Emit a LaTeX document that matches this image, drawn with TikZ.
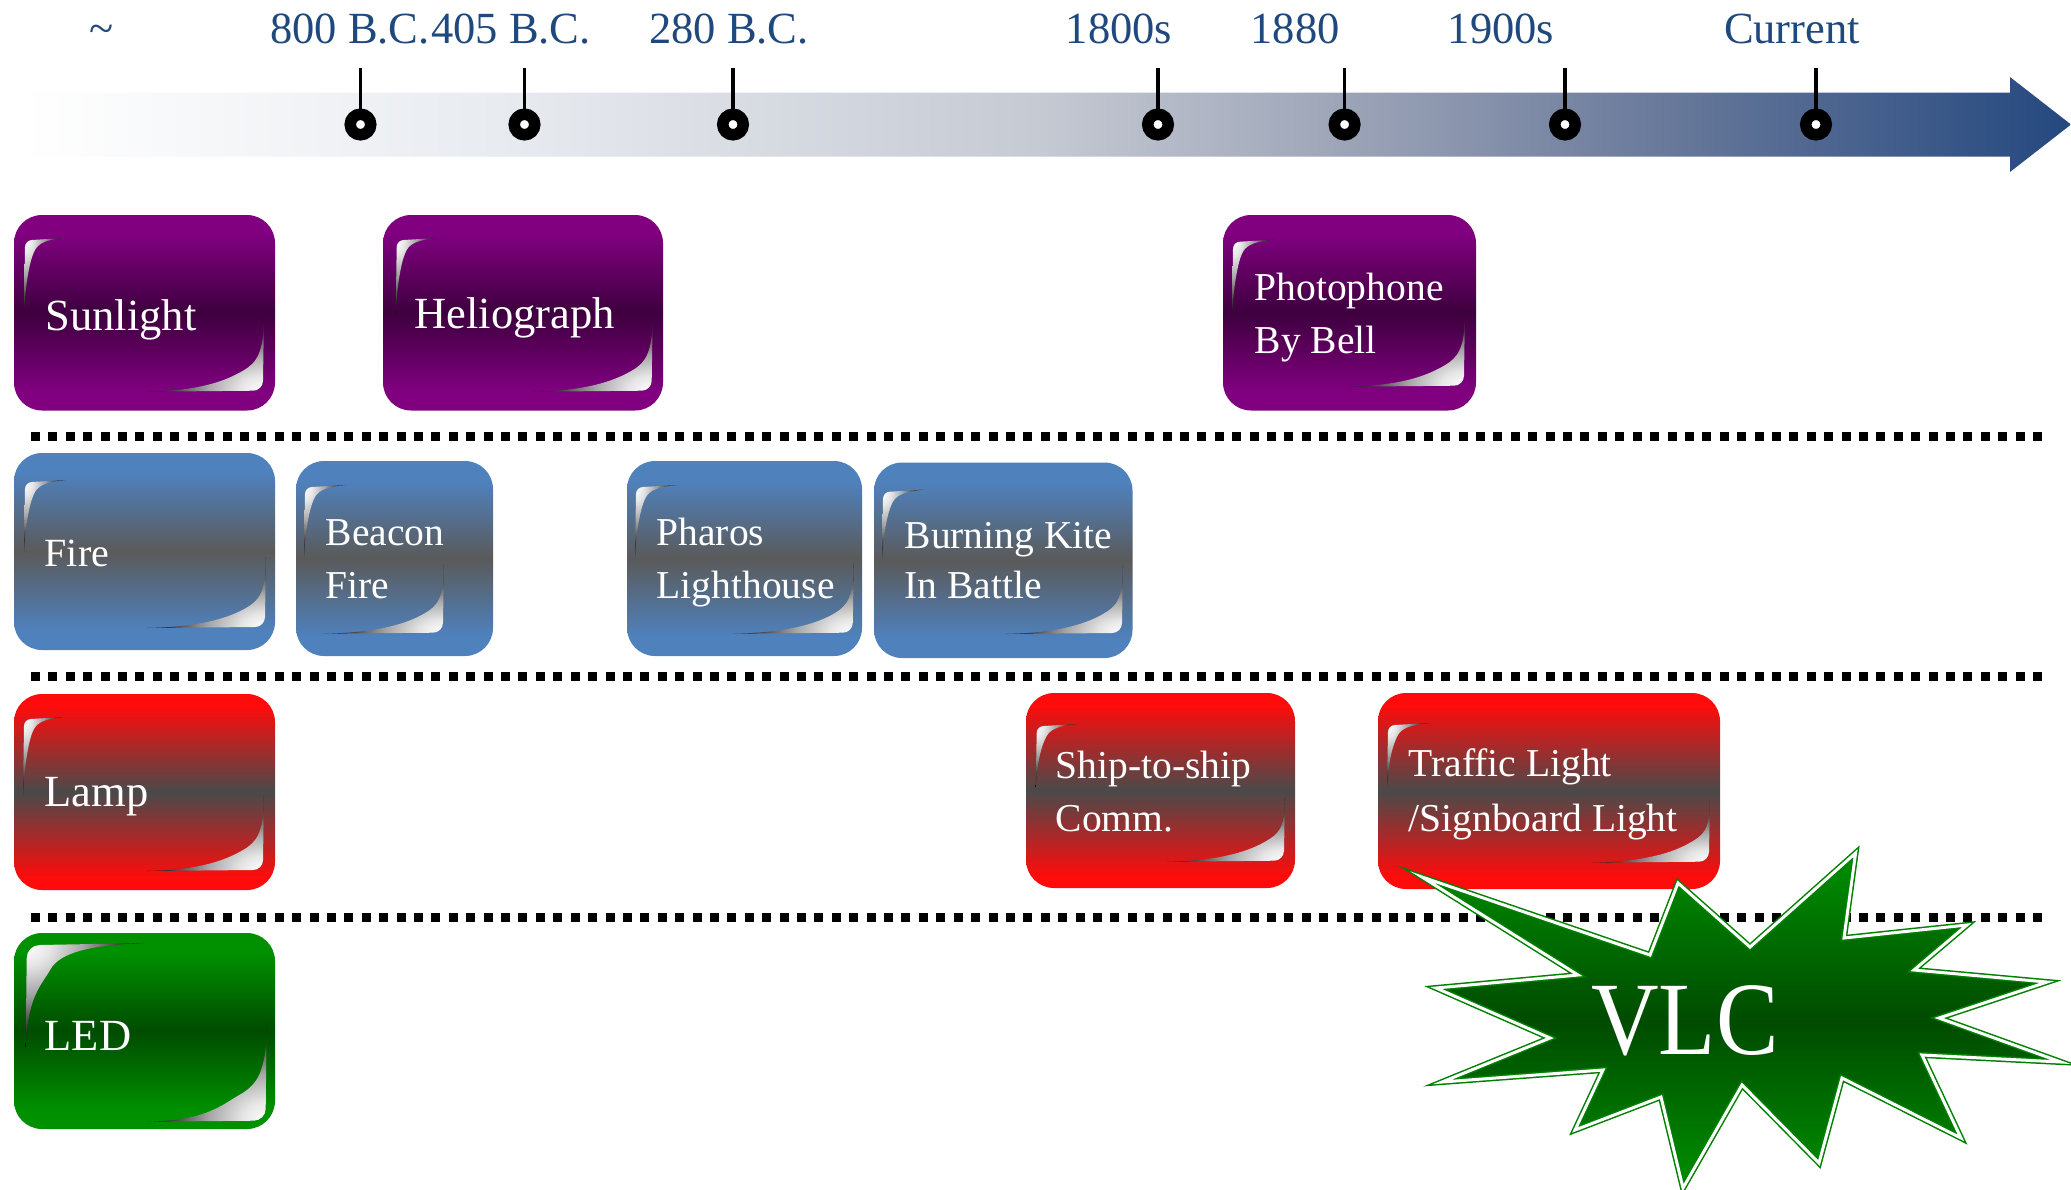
\documentclass[tikz,border=0pt]{standalone}
\usepackage{fontspec}
\setmainfont{Liberation Serif}

% timeline colours
\definecolor{tlblue}{HTML}{24487F}
\definecolor{lblblue}{HTML}{1F497D}
\definecolor{tlA}{HTML}{E8EBF0}
\definecolor{tlB}{HTML}{C6CAD3}
\definecolor{tlC}{HTML}{9CA4B7}
\definecolor{tlD}{HTML}{6A7A9B}
% box colours (edge / middle)
\definecolor{boxP1}{HTML}{800080}
\definecolor{boxP2}{HTML}{3E003E}
\definecolor{boxB1}{HTML}{4F81BD}
\definecolor{boxB2}{HTML}{5A5A5A}
\definecolor{boxR1}{HTML}{FF0B0B}
\definecolor{boxR2}{HTML}{4A4A4A}
\definecolor{boxG1}{HTML}{009000}
\definecolor{boxG2}{HTML}{004C00}
% burst colours
\definecolor{starG}{HTML}{009000}
\definecolor{starD}{HTML}{004B00}
\definecolor{starL}{HTML}{008000}

\pgfdeclarehorizontalshading{timeline}{100bp}{color(0bp)=(white); color(25.5bp)=(white); color(37bp)=(tlA); color(50bp)=(tlB); color(57.5bp)=(tlC); color(65bp)=(tlD); color(75bp)=(tlblue); color(100bp)=(tlblue)}
\pgfdeclareverticalshading{shpurple}{100bp}{color(0bp)=(boxP1); color(30bp)=(boxP1); color(50bp)=(boxP2); color(70bp)=(boxP1); color(100bp)=(boxP1)}
\pgfdeclareverticalshading{shblue}{100bp}{color(0bp)=(boxB1); color(30bp)=(boxB1); color(50bp)=(boxB2); color(70bp)=(boxB1); color(100bp)=(boxB1)}
\pgfdeclareverticalshading{shred}{100bp}{color(0bp)=(boxR1); color(28bp)=(boxR1); color(50bp)=(boxR2); color(72bp)=(boxR1); color(100bp)=(boxR1)}
\pgfdeclareverticalshading{shgreen}{100bp}{color(0bp)=(boxG1); color(30bp)=(boxG1); color(50bp)=(boxG2); color(70bp)=(boxG1); color(100bp)=(boxG1)}
\pgfdeclareradialshading{curlshade}{\pgfpoint{0bp}{0bp}}{color(0bp)=(white); color(5bp)=(white!90!black); color(12bp)=(black!35); color(19bp)=(black!72); color(25bp)=(black!95); color(50bp)=(black!95)}

\tikzset{
  tlbl/.style={font=\fontsize{12.66pt}{15pt}\selectfont, text=lblblue, inner sep=0pt, anchor=base},
  tick/.style={circle, fill=white, draw=black, line width=0.115cm, minimum size=0.205cm, inner sep=0pt},
  stem/.style={line width=0.035cm, black},
  sepline/.style={line width=0.09cm, dash pattern=on 0.09cm off 0.084cm},
  tbox/.style={rectangle, rounded corners=0.28cm, inner sep=0pt, outer sep=0pt, shade},
  btext/.style={text=white, inner sep=0pt, anchor=base west},
  big/.style={font=\fontsize{12.66pt}{15pt}\selectfont},
}

% rounded box: name, x1, y1, x2, y2, shading
\newcommand{\tbx}[6]{%
  \node[tbox, shading=#6, minimum width={(#4-#2)*0.01cm}, minimum height={(#5-#3)*0.01cm}]
    (#1) at ({(#2+#4)/2},{(#3+#5)/2}) {};}

% glossy top-left curl: corner x, y, top length, left length, thickness, radius
\newcommand{\curlTL}[6]{%
  \shade[shading=curlshade] ({#1-#3},{#2-#4}) ({#1+#3},{#2+#4})
    ({#1-1},{#2+#4}) -- (#1,{#2+#6})
    .. controls (#1,{#2+0.45*#6}) and ({#1+0.45*#6},#2) .. ({#1+#6},#2)
    -- ({#1+#3},{#2-2})
    .. controls ({#1+0.55*#3},#2) and ({#1+1.4*#5},{#2+0.3*#5}) .. ({#1+#5},{#2+#5})
    .. controls ({#1+0.6*#5},{#2+1.7*#5}) and ({#1+1},{#2+0.5*#4}) .. ({#1-1},{#2+#4}) -- cycle;}

% glossy bottom-right curl: corner x, y, left length, top length, thickness, radius
\newcommand{\curlBR}[6]{%
  \shade[shading=curlshade] ({#1-#3},{#2-#4}) ({#1+#3},{#2+#4})
    ({#1-#3},{#2+1}) -- ({#1-#6},#2)
    .. controls ({#1-0.45*#6},#2) and (#1,{#2-0.45*#6}) .. (#1,{#2-#6})
    -- ({#1+1},{#2-#4})
    .. controls ({#1+1},{#2-0.5*#4}) and ({#1-0.3*#5},{#2-1.4*#5}) .. ({#1-#5},{#2-#5})
    .. controls ({#1-1.7*#5},{#2-0.6*#5}) and ({#1-0.5*#3},#2) .. ({#1-#3},{#2+1}) -- cycle;}

\begin{document}
\begin{tikzpicture}[x=0.01cm, y=-0.01cm]
\useasboundingbox (0,0) rectangle (2071,1190);
\fill[white] (0,0) rectangle (2071,1190);

% ---- timeline arrow ----
\shade[shading=timeline] (0,92.5) -- (2010,92.5) -- (2010,77) -- (2071,124.5)
  -- (2010,172) -- (2010,156.5) -- (0,156.5) -- cycle;

\node[tick] (t1) at (360.5,124.5) {};
\node[tick] (t2) at (524.5,124.5) {};
\node[tick] (t3) at (733,124.5) {};
\node[tick] (t4) at (1158,124.5) {};
\node[tick] (t5) at (1344.6,124.5) {};
\node[tick] (t6) at (1565,124.5) {};
\node[tick] (t7) at (1816,124.5) {};
\foreach \t in {t1,t2,t3,t4,t5,t6,t7}
  \draw[stem] (\t.north) -- ++(0,-40.5);

\node[tlbl] (l0) at (102,43) {\textasciitilde};
\node[tlbl] (l1) at (350,43) {800 B.C.};
\node[tlbl] (l2) at (511,43) {405 B.C.};
\node[tlbl] (l3) at (729,43) {280 B.C.};
\node[tlbl] (l4) at (1119,43) {1800s};
\node[tlbl] (l5) at (1295,43) {1880};
\node[tlbl] (l6) at (1501,43) {1900s};
\node[tlbl] (l7) at (1792,43) {Current};

% ---- row separators ----
\draw[sepline] (31,436.7) -- (2043,436.7);
\draw[sepline] (31,676.7) -- (2043,676.7);
\draw[sepline] (31,917) -- (2043,917);

% ---- row 1: sunlight ----
\tbx{sun}{14}{215}{275}{410.5}{shpurple}
\tbx{helio}{383}{215}{663}{410.5}{shpurple}
\tbx{photo}{1223}{215}{1476}{410.5}{shpurple}
\curlTL{25}{240}{38}{73}{10}{7}
\curlBR{263}{390.7}{116}{76}{20}{10}
\curlTL{396.7}{240}{40}{73}{10}{7}
\curlBR{651.7}{390.7}{118.7}{75.7}{20}{10}
\curlTL{1233}{241.7}{40}{75}{10}{7}
\curlBR{1464}{385.7}{117}{74}{20}{10}
\node[btext, big] (sunT) at (45,330) {Sunlight};
\node[btext, big] (helT) at (414,328) {Heliograph};
\node[btext] (phT) at (1254,300) {\parbox[t]{6cm}{\fontsize{11.24pt}{15.08pt}\selectfont Photophone\\By Bell}};

% ---- row 2: fire ----
\tbx{fire}{14}{453}{275}{650}{shblue}
\tbx{beacon}{296}{461}{493}{656}{shblue}
\tbx{pharos}{627}{461}{862}{656}{shblue}
\tbx{kite}{874}{462.5}{1132.5}{658}{shblue}
\curlTL{25}{482}{40}{70}{10}{7}
\curlBR{265}{627}{118}{70}{19}{10}
\curlTL{305}{487}{40}{70}{10}{7}
\curlBR{443}{632.7}{119}{68}{19}{10}
\curlTL{636}{487}{40.5}{70}{10}{7}
\curlBR{852.8}{632.7}{119}{70}{19}{10}
\curlTL{883}{491.7}{40}{68}{10}{7}
\curlBR{1122}{633}{117}{67}{19}{10}
\node[btext, font=\fontsize{11.38pt}{14pt}\selectfont] (fireT) at (44,566.7) {Fire};
\node[btext] (beaT) at (325,545) {\parbox[t]{6cm}{\fontsize{11.24pt}{15.08pt}\selectfont Beacon\\Fire}};
\node[btext] (phaT) at (656,545) {\parbox[t]{6cm}{\fontsize{11.24pt}{15.08pt}\selectfont Pharos\\Lighthouse}};
\node[btext] (kiteT) at (904,548) {\parbox[t]{6cm}{\fontsize{11.24pt}{14.23pt}\selectfont Burning Kite\\In Battle}};

% ---- row 3: lamp ----
\tbx{lamp}{14}{694}{275}{890}{shred}
\tbx{ship}{1026}{693}{1295}{888}{shred}
\tbx{traffic}{1378}{693}{1720}{889}{shred}
\curlTL{24}{719}{39}{76}{10}{7}
\curlBR{263}{870}{116}{75}{20}{10}
\curlTL{1036.7}{726}{40}{61}{10}{7}
\curlBR{1284}{860.7}{117}{63}{19}{10}
\curlTL{1388}{725}{41}{62}{10}{7}
\curlBR{1709}{861.7}{117}{62}{19}{10}
\node[btext, big] (lampT) at (44,806.7) {Lamp};
\node[btext] (shipT) at (1055,778.3) {\parbox[t]{6cm}{\fontsize{11.24pt}{15.08pt}\selectfont Ship-to-ship\\Comm.}};
\node[btext] (trafT) at (1408,776.7) {\parbox[t]{6cm}{\fontsize{11.24pt}{15.65pt}\selectfont Traffic Light\\/Signboard Light}};

% ---- row 4: LED ----
\tbx{led}{14}{933}{275}{1129}{shgreen}
\curlTL{26.7}{945}{118}{102}{24}{13}
\curlBR{265.7}{1120.7}{119}{99}{26}{12}
\node[btext, big] (ledT) at (44,1050) {LED};

% ---- VLC burst ----
\path[draw=starL, double=white, double distance=0.03cm, line width=0.015cm,
      preaction={shade, top color=starG, bottom color=starG, middle color=starD}]
  (1422,877) -- (1650,955) -- (1678,883) -- (1750,947) -- (1855.6,853)
  -- (1844,938) -- (1967,925) -- (1914,970) -- (2047,982) -- (1939,1018)
  -- (2061,1062) -- (1922,1055) -- (1961,1138) -- (1842,1078) -- (1819,1163)
  -- (1742,1085) -- (1683,1188) -- (1661,1097) -- (1575,1130) -- (1603,1070)
  -- (1442,1082) -- (1550,1038) -- (1436,988) -- (1578,975) -- cycle;
\node[text=white, inner sep=0pt, anchor=base, font=\fontsize{29.6pt}{35pt}\selectfont]
  (vlc) at (1685,1054) {\scalebox{0.9}[1]{VLC}};
\end{tikzpicture}
\end{document}
